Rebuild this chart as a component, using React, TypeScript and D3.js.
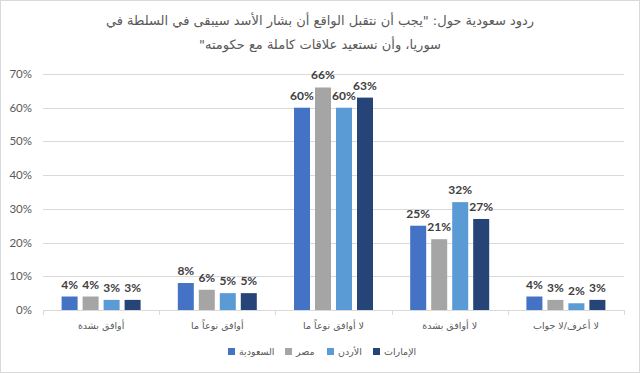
import React, { useRef, useEffect } from 'react';
import * as d3 from 'd3';

const categories = ['أوافق بشدة', 'أوافق نوعاً ما', 'لا أوافق نوعاً ما', 'لا أوافق بشدة', 'لا أعرف/لا جواب'];
const seriesNames = ['السعودية', 'مصر', 'الأردن', 'الإمارات'];
const seriesColors = ['#4472C4', '#A5A5A5', '#5B9BD5', '#264478'];
const saudi = [4, 8, 60, 25, 4];
const egypt = [4, 6, 66, 21, 3];
const jordan = [3, 5, 60, 32, 2];
const uae = [3, 5, 63, 27, 3];
const yTicks = [0, 10, 20, 30, 40, 50, 60, 70];
const titleLines = [
  'ردود سعودية حول: "يجب أن نتقبل الواقع  أن بشار الأسد سيبقى في السلطة في',
  'سوريا، وأن نستعيد علاقات كاملة مع حكومته"',
];

const App = () => {
  const ref = useRef<SVGSVGElement>(null);

  useEffect(() => {
    const width = 640;
    const height = 373;
    const margin = { top: 74, right: 16, bottom: 63, left: 43 };
    const values = [saudi, egypt, jordan, uae];
    const arabicFont = '"DejaVu Sans", sans-serif';
    const numFont = 'Lato, "Open Sans", sans-serif';

    const svg = d3.select(ref.current);
    svg.selectAll('*').remove();

    svg.append('rect')
      .attr('x', 0.5).attr('y', 0.5)
      .attr('width', width - 1).attr('height', height - 1)
      .attr('fill', '#fff')
      .attr('stroke', '#D9D9D9');

    const x = d3.scaleBand<string>()
      .domain(categories)
      .range([margin.left, width - margin.right]);

    const bw = x.bandwidth();
    const groupW = 79;
    const xs = d3.scaleBand<string>()
      .domain(seriesNames)
      .range([(bw - groupW) / 2, (bw + groupW) / 2])
      .paddingInner(0.238);

    const y = d3.scaleLinear()
      .domain([0, 70])
      .range([height - margin.bottom, margin.top]);

    // title
    svg.append('g')
      .selectAll('text')
      .data(titleLines)
      .join('text')
      .attr('x', width / 2)
      .attr('y', (d, i) => 25 + i * 24)
      .attr('text-anchor', 'middle')
      .attr('direction', 'rtl')
      .attr('font-family', arabicFont)
      .attr('font-size', 13)
      .attr('fill', '#595959')
      .text(d => d);

    // gridlines
    svg.append('g')
      .selectAll('line')
      .data(yTicks)
      .join('line')
      .attr('x1', margin.left)
      .attr('x2', width - margin.right)
      .attr('y1', d => Math.round(y(d)) + 0.5)
      .attr('y2', d => Math.round(y(d)) + 0.5)
      .attr('stroke', '#D9D9D9');

    // y labels
    svg.append('g')
      .selectAll('text')
      .data(yTicks)
      .join('text')
      .attr('x', 32)
      .attr('y', d => y(d) + 4)
      .attr('text-anchor', 'end')
      .attr('font-family', numFont)
      .attr('font-size', 11.5)
      .attr('fill', '#595959')
      .text(d => `${d}%`);

    // category tick marks
    const bounds = categories.map(c => x(c) as number).concat([width - margin.right]);
    svg.append('g')
      .selectAll('line')
      .data(bounds)
      .join('line')
      .attr('x1', d => Math.round(d) + 0.5)
      .attr('x2', d => Math.round(d) + 0.5)
      .attr('y1', y(0))
      .attr('y2', y(0) + 5)
      .attr('stroke', '#D9D9D9');

    // bars
    const groups = svg.append('g')
      .selectAll('g')
      .data(categories)
      .join('g')
      .attr('transform', c => `translate(${x(c)},0)`);

    groups.each(function (c, ci) {
      const g = d3.select(this);
      seriesNames.forEach((s, si) => {
        const v = values[si][ci];
        g.append('rect')
          .attr('x', xs(s) as number)
          .attr('y', y(v))
          .attr('width', xs.bandwidth())
          .attr('height', y(0) - y(v))
          .attr('fill', seriesColors[si]);
        g.append('text')
          .attr('x', (xs(s) as number) + xs.bandwidth() / 2)
          .attr('y', y(v) - 8)
          .attr('text-anchor', 'middle')
          .attr('font-family', numFont)
          .attr('font-weight', 'bold')
          .attr('font-size', 12)
          .attr('fill', '#404040')
          .text(`${v}%`);
      });
    });

    // category labels
    svg.append('g')
      .selectAll('text')
      .data(categories)
      .join('text')
      .attr('x', c => (x(c) as number) + bw / 2)
      .attr('y', y(0) + 19)
      .attr('text-anchor', 'middle')
      .attr('direction', 'rtl')
      .attr('font-family', arabicFont)
      .attr('font-size', 9.5)
      .attr('fill', '#595959')
      .text(c => c);

    // legend
    const legendX = [228, 285, 327, 373];
    const legend = svg.append('g')
      .selectAll('g')
      .data(seriesNames)
      .join('g')
      .attr('transform', (d, i) => `translate(${legendX[i]},348)`);
    legend.append('rect')
      .attr('width', 7).attr('height', 7)
      .attr('fill', (d, i) => seriesColors[i]);
    legend.append('text')
      .attr('x', 11)
      .attr('y', 7)
      .attr('text-anchor', 'end')
      .attr('direction', 'rtl')
      .attr('font-family', arabicFont)
      .attr('font-size', 9.5)
      .attr('fill', '#595959')
      .text(d => d);
  }, []);

  return (
    <svg
      ref={ref}
      width={640}
      height={373}
      style={{ position: 'absolute', left: 0, top: 0, display: 'block' }}
    />
  );
};

export default App;
